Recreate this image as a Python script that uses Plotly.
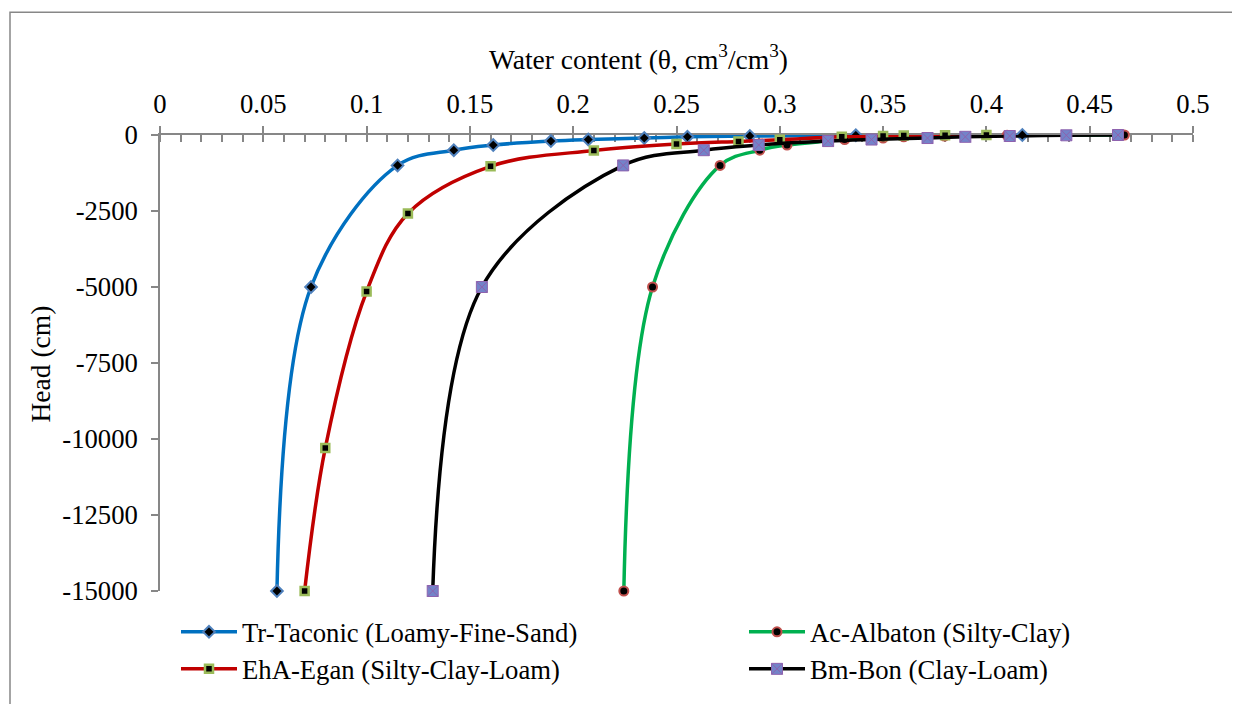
import plotly.graph_objects as go

# ---------------- data ----------------
heads_std = [-15000, -5000, -1000, -500, -330, -200, -150, -100, -60, -33, -10, 0]

tr_theta = [0.0566, 0.0731, 0.115, 0.1422, 0.1613, 0.1892, 0.2073, 0.2344, 0.2553, 0.2855, 0.3368, 0.4174]
tr_head = heads_std

ac_theta = [0.2245, 0.2384, 0.2711, 0.2903, 0.3035, 0.323, 0.3314, 0.35, 0.36, 0.3797, 0.41, 0.4668]
ac_head = heads_std

eha_theta = [0.07, 0.08, 0.10, 0.12, 0.16, 0.21, 0.25, 0.28, 0.30, 0.33, 0.35, 0.36, 0.38, 0.40]
eha_head = [-15000, -10300, -5150, -2580, -1030, -510, -300, -210, -155, -55, -33, -20, -10, 0]

bm_theta = [0.132, 0.1558, 0.2242, 0.2632, 0.2898, 0.3234, 0.3444, 0.3715, 0.3898, 0.4113, 0.4387, 0.4637]
bm_head = heads_std

x_tickvals = [0, 0.05, 0.1, 0.15, 0.2, 0.25, 0.3, 0.35, 0.4, 0.45, 0.5]
x_ticktext = ["0", "0.05", "0.1", "0.15", "0.2", "0.25", "0.3", "0.35", "0.4", "0.45", "0.5"]
y_tickvals = [0, -2500, -5000, -7500, -10000, -12500, -15000]
y_ticktext = ["0", "-2500", "-5000", "-7500", "-10000", "-12500", "-15000"]

names = ["Tr-Taconic (Loamy-Fine-Sand)", "Ac-Albaton (Silty-Clay)",
         "EhA-Egan (Silty-Clay-Loam)", "Bm-Bon (Clay-Loam)"]

# ---------------- style ----------------
FONT = "Liberation Serif"
FS = 26.7
AX = "#878787"

# the page places the figure 8 px from the top-left corner of the window
OFF = 8
W, H = 1240 - OFF, 704 - OFF
PL, PR, PT, PB = 160, 1193, 135, 592   # plot area in window pixels

fig = go.Figure()

fig.add_trace(go.Scatter(
    x=tr_theta, y=tr_head, name=names[0], mode="lines+markers",
    line=dict(color="#0070C0", width=3.5, shape="spline", smoothing=1),
    marker=dict(symbol="diamond", size=9, color="black", line=dict(color="#4F81BD", width=2)),
    cliponaxis=False, legend="legend"))
fig.add_trace(go.Scatter(
    x=ac_theta, y=ac_head, name=names[1], mode="lines+markers",
    line=dict(color="#00B050", width=3.5, shape="spline", smoothing=1),
    marker=dict(symbol="circle", size=9, color="black", line=dict(color="#C0504D", width=2)),
    cliponaxis=False, legend="legend2"))
fig.add_trace(go.Scatter(
    x=eha_theta, y=eha_head, name=names[2], mode="lines+markers",
    line=dict(color="#C00000", width=3.5, shape="spline", smoothing=1),
    marker=dict(symbol="square", size=8, color="black", line=dict(color="#9BBB59", width=2.5)),
    cliponaxis=False, legend="legend3"))
fig.add_trace(go.Scatter(
    x=bm_theta, y=bm_head, name=names[3], mode="lines+markers",
    line=dict(color="#000000", width=3.5, shape="spline", smoothing=1),
    marker=dict(symbol="square-x", size=11, color="#7383C9", line=dict(color="#8E62AE", width=1)),
    cliponaxis=False, legend="legend4"))

# dummy trace to activate the overlay axis (crossing major ticks)
fig.add_trace(go.Scatter(x=[None], y=[None], xaxis="x2", showlegend=False, hoverinfo="skip"))

def px_x(p):
    return (p - PL) / float(PR - PL)

def px_y(p):
    return (PB - p) / float(PB - PT)

legend_common = dict(font=dict(family=FONT, size=FS, color="black"),
                     bgcolor="rgba(0,0,0,0)", xanchor="left", yanchor="middle",
                     itemwidth=56)

fig.update_layout(
    width=W, height=H, autosize=False,
    margin=dict(l=PL - OFF, r=W - (PR - OFF), t=PT - OFF, b=H - (PB - OFF)),
    paper_bgcolor="white", plot_bgcolor="white",
    font=dict(family=FONT, size=FS, color="black"),
    xaxis=dict(range=[0, 0.5], side="top", tickmode="array",
               tickvals=x_tickvals, ticktext=x_ticktext,
               ticks="outside", ticklen=7, tickwidth=1.5, tickcolor=AX,
               ticklabelstandoff=3,
               showline=True, linecolor=AX, linewidth=1.5,
               showgrid=False, zeroline=False, layer="below traces",
               tickfont=dict(family=FONT, size=FS, color="black"),
               minor=dict(dtick=0.01, tick0=0, ticks="inside", ticklen=7,
                          tickwidth=1.5, tickcolor=AX, showgrid=False)),
    xaxis2=dict(range=[0, 0.5], side="top", overlaying="x", anchor="y",
                tickmode="array", tickvals=x_tickvals, showticklabels=False,
                ticks="inside", ticklen=7, tickwidth=1.5, tickcolor=AX,
                showline=False, showgrid=False, zeroline=False, layer="below traces"),
    yaxis=dict(range=[-15000, 0], tickmode="array",
               tickvals=y_tickvals, ticktext=y_ticktext,
               ticks="outside", ticklen=7, tickwidth=1.5, tickcolor=AX,
               ticklabelstandoff=8,
               showline=True, linecolor=AX, linewidth=1.5,
               showgrid=False, zeroline=False, layer="below traces",
               tickfont=dict(family=FONT, size=FS, color="black")),
    legend=dict(x=px_x(176), y=px_y(632), **legend_common),
    legend2=dict(x=px_x(744), y=px_y(632), **legend_common),
    legend3=dict(x=px_x(176), y=px_y(669), **legend_common),
    legend4=dict(x=px_x(744), y=px_y(669), **legend_common),
    showlegend=True,
    annotations=[
        dict(text="Water content (θ, cm<sup>3</sup>/cm<sup>3</sup>)", xref="paper", yref="paper",
             x=px_x(638), y=px_y(57), showarrow=False, xanchor="center", yanchor="middle",
             font=dict(family=FONT, size=27.5, color="black")),
        dict(text="Head (cm)", xref="paper", yref="paper", textangle=-90,
             x=px_x(40), y=px_y(365), showarrow=False, xanchor="center", yanchor="middle",
             font=dict(family=FONT, size=27.5, color="black")),
    ],
    shapes=[
        dict(type="rect", xref="paper", yref="paper",
             x0=px_x(10), x1=px_x(1260), y0=px_y(730), y1=px_y(12),
             line=dict(color=AX, width=1.5), fillcolor="rgba(0,0,0,0)", layer="below"),
    ],
)

fig.write_html("out.html")
